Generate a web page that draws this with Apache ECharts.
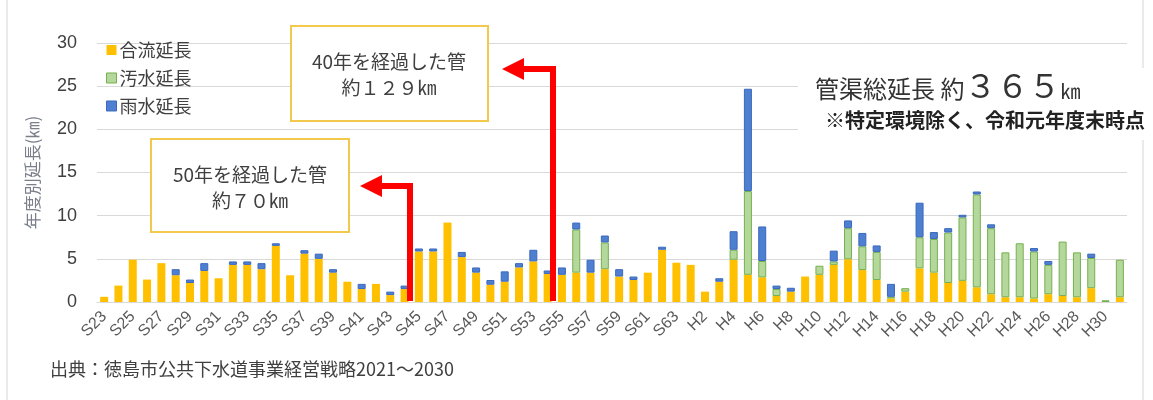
<!DOCTYPE html>
<html>
<head>
<meta charset="utf-8">
<script src="https://cdn.jsdelivr.net/npm/echarts@6/dist/echarts.min.js"></script>
<style>
html,body{margin:0;padding:0;background:#fff;}
#main{width:1153px;height:400px;}
</style>
</head>
<body>
<div id="main"></div>
<script>
var categories = ['S23','S24','S25','S26','S27','S28','S29','S30','S31','S32','S33','S34','S35','S36','S37','S38','S39','S40','S41','S42','S43','S44','S45','S46','S47','S48','S49','S50','S51','S52','S53','S54','S55','S56','S57','S58','S59','S60','S61','S62','S63',
'H1','H2','H3','H4','H5','H6','H7','H8','H9','H10','H11','H12','H13','H14','H15','H16','H17','H18','H19','H20','H21','H22','H23','H24','H25','H26','H27','H28','H29','H30','R1'];

var combined = [0.6,1.9,4.9,2.6,4.5,3.1,2.2,3.6,2.75,4.3,4.3,3.8,6.5,3.1,5.6,5.0,3.4,2.35,1.5,2.1,0.8,1.5,5.85,5.85,9.2,5.2,3.4,2.0,2.35,4.0,4.7,3.25,3.15,3.4,3.4,3.8,2.95,2.55,3.4,6.05,4.55,
4.3,1.2,2.35,4.9,3.15,2.85,0.7,1.2,2.95,3.15,4.3,4.95,3.7,2.55,0.4,1.2,3.9,3.4,2.2,2.45,1.7,0.9,0.55,0.55,0.4,0.9,0.7,0.55,1.6,0,0.55];

var sewage = [0,0,0,0,0,0,0,0,0,0,0,0,0,0,0,0,0,0,0,0,0,0,0,0,0,0,0,0,0,0,0,0,0,5.0,0,3.1,0,0,0,0,0,
0,0,0,1.15,9.7,1.9,0.8,0,0,1.05,0.4,3.6,2.75,3.25,0.2,0.4,3.6,3.9,5.85,7.35,10.75,7.65,5.2,6.25,5.45,3.4,6.3,5.2,3.5,0.2,4.35];

var rain = [0,0,0,0,0,0.7,0.4,0.9,0,0.4,0.4,0.7,0.3,0,0.4,0.6,0.4,0,0.6,0,0.4,0.4,0.35,0.35,0,0.6,0.6,0.55,1.2,0.5,1.35,0.4,0.85,0.8,1.5,0.8,0.85,0.4,0,0.35,0,
0,0,0.4,2.15,11.85,4.0,0.4,0.45,0,0,1.25,0.9,1.55,0.75,1.5,0,4.0,0.8,0.5,0.3,0.35,0.45,0,0,0.4,0.45,0,0,0.5,0,0];

var yTicks = [0,5,10,15,20,25,30];
var seriesNames = ['合流延長','汚水延長','雨水延長'];

function clean(arr){ return arr.map(function(v){ return v ? v : '-'; }); }

var chart = echarts.init(document.getElementById('main'));
var FONT = '"Liberation Sans","Noto Sans CJK JP",sans-serif';
var JP = '"Noto Sans CJK JP",sans-serif';

chart.setOption({
  animation:false,
  textStyle:{fontFamily:FONT},
  grid:{left:97,right:26,top:43,bottom:98},
  legend:{
    orient:'vertical', left:101, top:36, itemWidth:10, itemHeight:10, itemGap:10,
    icon:'rect',
    textStyle:{fontSize:18,color:'#404040',fontFamily:JP,padding:[0,0,0,-2]},
    data:[
      {name:seriesNames[0],itemStyle:{color:'#ffc000'}},
      {name:seriesNames[1],itemStyle:{color:'#b4d89b',borderColor:'#76b04e',borderWidth:1}},
      {name:seriesNames[2],itemStyle:{color:'#4f7fd0',borderColor:'#3b69bd',borderWidth:1}}
    ]
  },
  xAxis:{
    type:'category', data:categories,
    axisLine:{lineStyle:{color:'#d9d9d9'}},
    axisTick:{show:false},
    axisLabel:{interval:1,rotate:45,fontSize:16,color:'#595959',margin:12}
  },
  yAxis:{
    type:'value', min:yTicks[0], max:yTicks[yTicks.length-1], interval:5,
    name:'年度別延長(㎞)', nameLocation:'middle', nameGap:56,
    nameTextStyle:{fontSize:17,color:'#7a7f8a',fontFamily:JP},
    axisLine:{show:false}, axisTick:{show:false},
    axisLabel:{fontSize:18,color:'#404040',margin:20},
    splitLine:{lineStyle:{color:'#d9d9d9'}}
  },
  series:[
    {name:seriesNames[0],type:'bar',stack:'t',barWidth:8,data:clean(combined),
     itemStyle:{color:'#ffc000'}},
    {name:seriesNames[1],type:'bar',stack:'t',barWidth:8,data:clean(sewage),
     itemStyle:{color:'#b4d89b',borderColor:'#76b04e',borderWidth:1}},
    {name:seriesNames[2],type:'bar',stack:'t',barWidth:8,data:clean(rain),
     itemStyle:{color:'#4f7fd0',borderColor:'#3b69bd',borderWidth:1}}
  ],
  graphic:[
    {type:'line',shape:{x1:7,y1:0,x2:7,y2:400},style:{stroke:'#d6d6d6',lineWidth:1},z:0},
    {type:'line',shape:{x1:1143,y1:0,x2:1143,y2:400},style:{stroke:'#d6d6d6',lineWidth:1},z:0},
    {type:'rect',shape:{x:798,y:68,width:355,height:72},style:{fill:'#fff'},z:50},
    {type:'text',left:815,top:70,z:60,
     style:{text:'{a|管渠総延長 約}{b|３６５}{c|㎞}',
       rich:{a:{fontSize:24,fontFamily:JP,fill:'#333',verticalAlign:'bottom',padding:[0,0,1,0]},
             b:{fontSize:32,fontFamily:JP,fill:'#333',verticalAlign:'bottom'},
             c:{fontSize:20,fontFamily:JP,fill:'#333',verticalAlign:'bottom',padding:[0,0,1,0]}}}},
    {type:'text',left:825,top:110,z:60,
     style:{text:'※特定環境除く、令和元年度末時点',fontSize:20,fontWeight:'bold',fontFamily:JP,fill:'#222'}},
    {type:'rect',shape:{x:291,y:26,width:197,height:95},style:{fill:'#fff',stroke:'#f2c94c',lineWidth:2},z:50},
    {type:'text',x:389,y:62,z:60,style:{text:'40年を経過した管',fontSize:19,fontFamily:JP,fill:'#404040',textAlign:'center',textVerticalAlign:'middle'}},
    {type:'text',x:389,y:88,z:60,style:{text:'約１２９㎞',fontSize:19,fontFamily:JP,fill:'#404040',textAlign:'center',textVerticalAlign:'middle'}},
    {type:'rect',shape:{x:151,y:139,width:198,height:93},style:{fill:'#fff',stroke:'#f2c94c',lineWidth:2},z:50},
    {type:'text',x:250,y:175,z:60,style:{text:'50年を経過した管',fontSize:19,fontFamily:JP,fill:'#404040',textAlign:'center',textVerticalAlign:'middle'}},
    {type:'text',x:250,y:201,z:60,style:{text:'約７０㎞',fontSize:19,fontFamily:JP,fill:'#404040',textAlign:'center',textVerticalAlign:'middle'}},
    {type:'polyline',shape:{points:[[410,301],[410,186],[378,186]]},style:{stroke:'#ff0000',lineWidth:6,fill:null,lineJoin:'miter'},z:70},
    {type:'polygon',shape:{points:[[360,186],[382,175],[382,197]]},style:{fill:'#ff0000'},z:70},
    {type:'polyline',shape:{points:[[553,301],[553,69],[521,69]]},style:{stroke:'#ff0000',lineWidth:6,fill:null,lineJoin:'miter'},z:70},
    {type:'polygon',shape:{points:[[502,69],[524,58],[524,80]]},style:{fill:'#ff0000'},z:70},
    {type:'text',left:50,top:360,z:60,style:{text:'出典：徳島市公共下水道事業経営戦略2021～2030',fontSize:18,fontFamily:JP,fill:'#404040'}}
  ]
});
</script>
</body>
</html>
